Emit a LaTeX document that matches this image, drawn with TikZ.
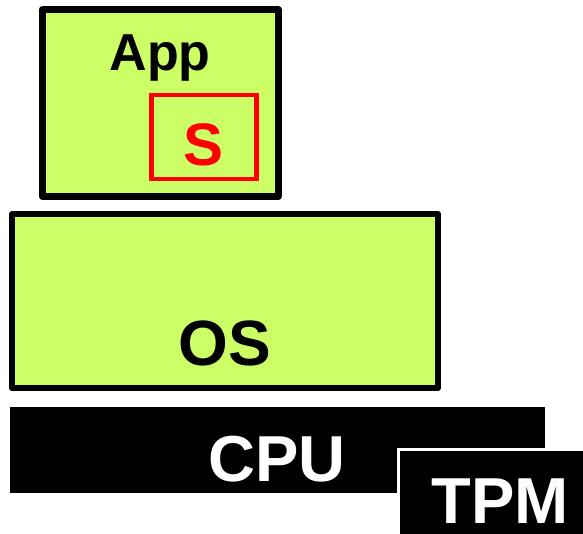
\documentclass[tikz,border=0pt]{standalone}
\usepackage{fontspec}
\setmainfont{Liberation Sans}
\definecolor{layergreen}{HTML}{CCFF66}
\tikzset{
    layer/.style={rectangle, draw=black, fill=layergreen, line width=6pt, line join=round, inner sep=0pt},
    secret/.style={rectangle, draw=red, line width=4.5pt, inner sep=0pt},
    chip/.style={rectangle, fill=black, inner sep=0pt},
    boxtext/.style={anchor=base, inner sep=0pt, font=\bfseries}
}
\begin{document}
\begin{tikzpicture}[x=1pt, y=-1pt]
    \useasboundingbox (0,0) rectangle (583,534);

    \node[layer, line width=7pt, minimum width=235.5pt, minimum height=187pt] (app) at (160.25,103) {};
    \node[secret, minimum width=105pt, minimum height=84pt] (sbox) at (204,137) {};
    \node[layer, minimum width=426pt, minimum height=174pt] (os) at (225,301) {};

    \node[chip, minimum width=535pt, minimum height=86pt] (cpu) at (277.5,450) {};
    \node[chip, draw=white, line width=3pt, minimum width=191.5pt, minimum height=90.5pt] (tpm) at (494.25,494.75) {};

    \node[boxtext, font=\fontsize{52}{52}\selectfont\bfseries] (applbl) at (160,71) {App};
    \node[boxtext, text=red, font=\fontsize{60}{60}\selectfont\bfseries] (slbl) at (204,166) {S};
    \node[boxtext, font=\fontsize{64}{64}\selectfont\bfseries] (oslbl) at (225,365) {OS};
    \node[boxtext, text=white, font=\fontsize{65}{65}\selectfont\bfseries] (cpulbl) at (277,481) {CPU};
    \node[boxtext, text=white, font=\fontsize{65}{65}\selectfont\bfseries] (tpmlbl) at (500,523) {TPM};
\end{tikzpicture}
\end{document}
